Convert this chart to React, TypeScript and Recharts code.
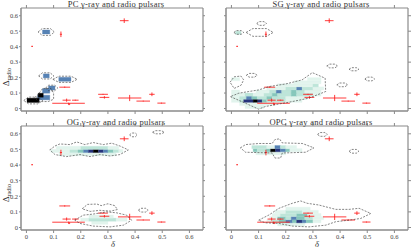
import { ScatterChart, Scatter, XAxis, YAxis, ErrorBar, ReferenceArea } from 'recharts';

type Cell = [number, number, number, number, number]; // x1, x2, y1, y2, level
type Pt = [number, number];

const xTicks = [0, 0.1, 0.2, 0.3, 0.4, 0.5, 0.6];
const yTicks = [0, 0.1, 0.2, 0.3, 0.4, 0.5, 0.6];
const xDomain: [number, number] = [-0.02, 0.65];
const yDomain: [number, number] = [-0.016, 0.65];

const levelColors = ['#ffffff', '#e2f4ed', '#bde5d8', '#86c7bb', '#5682b4', '#26337c', '#000000'];

// observed pulsars (same in every panel)
const observed = [
  { x: 0.021, y: 0.402, ex: 0.003, ey: 0.003 },
  { x: 0.127, y: 0.48, ex: 0.004, ey: 0.018 },
  { x: 0.36, y: 0.568, ex: 0.016, ey: 0.015 },
  { x: 0.141, y: 0.138, ex: 0.02, ey: 0.004 },
  { x: 0.148, y: 0.054, ex: 0.015, ey: 0.01 },
  { x: 0.18, y: 0.054, ex: 0.012, ey: 0.003 },
  { x: 0.155, y: 0.034, ex: 0.06, ey: 0.003 },
  { x: 0.157, y: 0.028, ex: 0.004, ey: 0.006 },
  { x: 0.282, y: 0.092, ex: 0.018, ey: 0.003 },
  { x: 0.287, y: 0.072, ex: 0.018, ey: 0.008 },
  { x: 0.38, y: 0.068, ex: 0.043, ey: 0.02 },
  { x: 0.43, y: 0.048, ex: 0.025, ey: 0.003 },
  { x: 0.462, y: 0.092, ex: 0.01, ey: 0.012 },
  { x: 0.497, y: 0.035, ex: 0.015, ey: 0.003 },
];

// PC
const pcCells: Cell[] = [
  [0.059, 0.086, 0.482, 0.508, 4],
  [0.062, 0.084, 0.198, 0.224, 4],
  [0.119, 0.164, 0.176, 0.202, 4],
  [0.081, 0.105, 0.12, 0.146, 4],
  [0.059, 0.086, 0.099, 0.129, 4],
  [0.041, 0.086, 0.056, 0.086, 4],
  [0.043, 0.062, 0.073, 0.099, 6],
  [0.002, 0.047, 0.039, 0.067, 6],
];
const pcContours: Pt[][] = [
  [[0.043, 0.495], [0.058, 0.517], [0.088, 0.517], [0.103, 0.495], [0.088, 0.473], [0.058, 0.473], [0.043, 0.495]],
  [[0.045, 0.211], [0.059, 0.231], [0.087, 0.231], [0.101, 0.211], [0.087, 0.191], [0.059, 0.191], [0.045, 0.211]],
  [[0.097, 0.189], [0.12, 0.209], [0.164, 0.209], [0.187, 0.189], [0.164, 0.169], [0.12, 0.169], [0.097, 0.189]],
  [[0.071, 0.133], [0.082, 0.151], [0.104, 0.151], [0.115, 0.133], [0.104, 0.115], [0.082, 0.115], [0.071, 0.133]],
  [[0.03, 0.07], [0.045, 0.095], [0.06, 0.13], [0.09, 0.13], [0.1, 0.1], [0.1, 0.06], [0.08, 0.045], [0.045, 0.045], [0.03, 0.07]],
  [[-0.01, 0.052], [0.008, 0.074], [0.042, 0.074], [0.06, 0.052], [0.042, 0.03], [0.008, 0.03], [-0.01, 0.052]],
];

// SG
const sgCells: Cell[] = [
  [0.05, 0.12, 0.0, 0.02, 1],
  [0.03, 0.16, 0.02, 0.04, 1],
  [0.0, 0.03, 0.04, 0.06, 1], [0.03, 0.045, 0.04, 0.06, 2], [0.045, 0.08, 0.04, 0.06, 5], [0.08, 0.097, 0.04, 0.06, 6],
  [0.097, 0.113, 0.04, 0.06, 5], [0.113, 0.13, 0.04, 0.06, 3], [0.13, 0.2, 0.04, 0.06, 2], [0.2, 0.26, 0.04, 0.06, 1],
  [0.0, 0.03, 0.06, 0.08, 1], [0.03, 0.055, 0.06, 0.08, 2], [0.055, 0.075, 0.06, 0.08, 4], [0.075, 0.095, 0.06, 0.08, 3],
  [0.095, 0.13, 0.06, 0.08, 2], [0.13, 0.15, 0.06, 0.08, 3], [0.15, 0.2, 0.06, 0.08, 2], [0.2, 0.28, 0.06, 0.08, 1],
  [0.0, 0.05, 0.08, 0.1, 1], [0.05, 0.08, 0.08, 0.1, 2], [0.08, 0.12, 0.08, 0.1, 1], [0.12, 0.15, 0.08, 0.1, 2],
  [0.15, 0.17, 0.08, 0.1, 3], [0.17, 0.22, 0.08, 0.1, 2], [0.22, 0.24, 0.08, 0.1, 3], [0.24, 0.3, 0.08, 0.1, 2], [0.3, 0.33, 0.08, 0.1, 1],
  [0.0, 0.03, 0.1, 0.12, 1], [0.09, 0.14, 0.1, 0.12, 1], [0.14, 0.165, 0.1, 0.12, 2], [0.165, 0.185, 0.1, 0.12, 4],
  [0.185, 0.22, 0.1, 0.12, 2], [0.22, 0.24, 0.1, 0.12, 3], [0.24, 0.27, 0.1, 0.12, 2], [0.27, 0.33, 0.1, 0.12, 1],
  [0.13, 0.2, 0.12, 0.14, 1], [0.2, 0.24, 0.12, 0.14, 2], [0.24, 0.26, 0.12, 0.14, 4], [0.26, 0.3, 0.12, 0.14, 2], [0.3, 0.34, 0.12, 0.14, 1],
  [0.17, 0.3, 0.14, 0.16, 1], [0.3, 0.32, 0.14, 0.16, 2],
  [0.23, 0.33, 0.16, 0.18, 1],
  [0.0, 0.03, 0.18, 0.2, 1], [0.28, 0.33, 0.18, 0.2, 1],
  [0.015, 0.035, 0.48, 0.5, 2],
];
const sgContours: Pt[][] = [
  [[-0.004, 0.077], [0.052, 0.034], [0.1, -0.004], [0.125, 0.013], [0.224, 0.045], [0.285, 0.067], [0.347, 0.11], [0.345, 0.196],
    [0.298, 0.232], [0.26, 0.185], [0.2, 0.159], [0.138, 0.142], [0.1, 0.12], [0.064, 0.11], [0.027, 0.099], [-0.004, 0.077]],
  [[-0.005, 0.17], [0.01, 0.205], [0.035, 0.21], [0.045, 0.185], [0.035, 0.15], [0.01, 0.13], [-0.005, 0.17]],
  [[0.055, 0.215], [0.065, 0.227], [0.085, 0.227], [0.095, 0.215], [0.085, 0.203], [0.065, 0.203], [0.055, 0.215]],
  [[0.093, 0.55], [0.102, 0.562], [0.12, 0.562], [0.129, 0.55], [0.12, 0.538], [0.102, 0.538], [0.093, 0.55]],
  [[0.009, 0.492], [0.018, 0.504], [0.036, 0.504], [0.045, 0.492], [0.036, 0.48], [0.018, 0.48], [0.009, 0.492]],
  [[0.054, 0.492], [0.079, 0.517], [0.129, 0.517], [0.154, 0.492], [0.129, 0.467], [0.079, 0.467], [0.054, 0.492]],
  [[0.351, 0.275], [0.361, 0.287], [0.381, 0.287], [0.391, 0.275], [0.381, 0.263], [0.361, 0.263], [0.351, 0.275]],
  [[0.433, 0.254], [0.442, 0.264], [0.46, 0.264], [0.469, 0.254], [0.46, 0.244], [0.442, 0.244], [0.433, 0.254]],
  [[0.491, 0.191], [0.5, 0.203], [0.518, 0.203], [0.527, 0.191], [0.518, 0.179], [0.5, 0.179], [0.491, 0.191]],
  [[0.388, 0.153], [0.398, 0.165], [0.418, 0.165], [0.428, 0.153], [0.418, 0.141], [0.398, 0.141], [0.388, 0.153]],
];

// OG
const ogCells: Cell[] = [
  [0.12, 0.33, 0.46, 0.48, 1],
  [0.09, 0.16, 0.48, 0.5, 1], [0.16, 0.19, 0.48, 0.5, 2], [0.19, 0.21, 0.48, 0.5, 3], [0.21, 0.228, 0.48, 0.5, 4],
  [0.228, 0.246, 0.48, 0.5, 5], [0.246, 0.265, 0.48, 0.5, 6], [0.265, 0.283, 0.48, 0.5, 5], [0.283, 0.3, 0.48, 0.5, 4],
  [0.3, 0.32, 0.48, 0.5, 3], [0.32, 0.34, 0.48, 0.5, 2], [0.34, 0.355, 0.48, 0.5, 1],
  [0.11, 0.2, 0.5, 0.52, 1], [0.2, 0.3, 0.5, 0.52, 2], [0.3, 0.34, 0.5, 0.52, 1],
  [0.24, 0.3, 0.02, 0.04, 1],
  [0.2, 0.23, 0.04, 0.06, 1], [0.23, 0.33, 0.04, 0.06, 2], [0.33, 0.37, 0.04, 0.06, 1],
  [0.23, 0.32, 0.06, 0.08, 1],
];
const ogContours: Pt[][] = [
  [[0.086, 0.497], [0.105, 0.522], [0.123, 0.535], [0.16, 0.531], [0.185, 0.548], [0.215, 0.531], [0.246, 0.544], [0.283, 0.531],
    [0.314, 0.54], [0.344, 0.522], [0.375, 0.497], [0.344, 0.467], [0.308, 0.458], [0.271, 0.467], [0.234, 0.454], [0.197, 0.467],
    [0.148, 0.454], [0.105, 0.467], [0.086, 0.497]],
  [[0.38, 0.593], [0.387, 0.605], [0.401, 0.605], [0.408, 0.593], [0.401, 0.581], [0.387, 0.581], [0.38, 0.593]],
  [[0.464, 0.61], [0.475, 0.62], [0.497, 0.62], [0.508, 0.61], [0.497, 0.6], [0.475, 0.6], [0.464, 0.61]],
  [[0.205, 0.12], [0.225, 0.148], [0.26, 0.15], [0.275, 0.14], [0.3, 0.152], [0.325, 0.14], [0.335, 0.115], [0.31, 0.105],
    [0.27, 0.11], [0.235, 0.103], [0.205, 0.12]],
  [[0.178, 0.047], [0.209, 0.079], [0.246, 0.086], [0.295, 0.1], [0.332, 0.094], [0.369, 0.079], [0.387, 0.047], [0.357, 0.015],
    [0.308, 0.004], [0.246, 0.009], [0.197, 0.026], [0.178, 0.047]],
  [[0.412, 0.111], [0.421, 0.123], [0.439, 0.123], [0.448, 0.111], [0.439, 0.099], [0.421, 0.099], [0.412, 0.111]],
];

// OPC
const opcCells: Cell[] = [
  [0.09, 0.2, 0.465, 0.485, 1],
  [0.08, 0.095, 0.485, 0.505, 3], [0.095, 0.128, 0.485, 0.505, 2], [0.128, 0.144, 0.485, 0.505, 3], [0.144, 0.162, 0.485, 0.505, 6],
  [0.162, 0.18, 0.485, 0.505, 5], [0.18, 0.2, 0.485, 0.505, 4], [0.2, 0.215, 0.485, 0.505, 3], [0.215, 0.26, 0.485, 0.505, 1],
  [0.075, 0.13, 0.505, 0.525, 2], [0.13, 0.16, 0.505, 0.525, 1], [0.16, 0.18, 0.505, 0.525, 4], [0.18, 0.2, 0.505, 0.525, 2], [0.2, 0.24, 0.505, 0.525, 1],
  [0.17, 0.27, 0.01, 0.03, 1],
  [0.13, 0.15, 0.03, 0.05, 1], [0.15, 0.175, 0.03, 0.05, 2], [0.175, 0.2, 0.03, 0.05, 3], [0.2, 0.225, 0.03, 0.05, 4],
  [0.225, 0.24, 0.03, 0.05, 3], [0.24, 0.26, 0.03, 0.05, 5], [0.26, 0.275, 0.03, 0.05, 4], [0.275, 0.3, 0.03, 0.05, 3], [0.3, 0.33, 0.03, 0.05, 1],
  [0.14, 0.17, 0.05, 0.07, 1], [0.17, 0.2, 0.05, 0.07, 3], [0.2, 0.22, 0.05, 0.07, 2], [0.22, 0.24, 0.05, 0.07, 4],
  [0.24, 0.27, 0.05, 0.07, 3], [0.27, 0.3, 0.05, 0.07, 2], [0.3, 0.34, 0.05, 0.07, 1],
  [0.15, 0.18, 0.07, 0.09, 1], [0.18, 0.24, 0.07, 0.09, 2], [0.24, 0.28, 0.07, 0.09, 3], [0.28, 0.33, 0.07, 0.09, 1],
  [0.16, 0.2, 0.09, 0.11, 1], [0.2, 0.26, 0.09, 0.11, 2], [0.26, 0.32, 0.09, 0.11, 1],
  [0.2, 0.29, 0.11, 0.13, 1],
];
const opcContours: Pt[][] = [
  [[0.033, 0.51], [0.052, 0.531], [0.101, 0.538], [0.15, 0.538], [0.16, 0.563], [0.177, 0.568], [0.187, 0.542], [0.261, 0.538],
    [0.304, 0.51], [0.273, 0.482], [0.187, 0.477], [0.181, 0.445], [0.16, 0.445], [0.15, 0.477], [0.052, 0.482], [0.033, 0.51]],
  [[0.317, 0.596], [0.326, 0.608], [0.344, 0.608], [0.353, 0.596], [0.344, 0.584], [0.326, 0.584], [0.317, 0.596]],
  [[0.433, 0.488], [0.442, 0.5], [0.46, 0.5], [0.469, 0.488], [0.46, 0.476], [0.442, 0.476], [0.433, 0.488]],
  [[0.1, 0.047], [0.138, 0.08], [0.175, 0.123], [0.224, 0.155], [0.255, 0.17], [0.279, 0.155], [0.322, 0.144], [0.384, 0.116],
    [0.433, 0.116], [0.47, 0.123], [0.513, 0.09], [0.476, 0.058], [0.433, 0.047], [0.384, 0.037], [0.347, 0.015], [0.285, 0.004],
    [0.224, 0.009], [0.175, 0.026], [0.125, 0.03], [0.1, 0.047]],
];

const axisColor = '#8a8a8a';
const tickFont = { fontSize: 6.5, fill: '#444', fontFamily: '"Liberation Serif", serif' };
const blank = () => '';
const noDot = () => <g />;

interface PanelProps {
  left: number;
  top: number;
  width: number;
  height: number;
  topH: number;
  bottomH: number;
  rightW: number;
  cells: Cell[];
  contours: Pt[][];
  xLabels: boolean;
  yLabels: boolean;
}

function Panel({ left, top, width, height, topH, bottomH, rightW, cells, contours, xLabels, yLabels }: PanelProps) {
  return (
    <div style={{ position: 'absolute', left, top }}>
      <ScatterChart width={width} height={height} margin={{ top: 0, right: 0, bottom: 0, left: 0 }}>
        <XAxis type="number" dataKey="x" domain={xDomain} ticks={xTicks} allowDataOverflow height={bottomH}
          tick={tickFont} tickFormatter={xLabels ? undefined : blank} tickSize={3} tickMargin={1}
          axisLine={{ stroke: axisColor, strokeWidth: 1.5 }} tickLine={{ stroke: axisColor }} />
        <XAxis xAxisId="top" orientation="top" type="number" dataKey="x" domain={xDomain} ticks={xTicks} allowDataOverflow
          height={topH} tickFormatter={blank} tickSize={3}
          axisLine={{ stroke: axisColor, strokeWidth: 1.2 }} tickLine={{ stroke: axisColor }} />
        <YAxis type="number" dataKey="y" domain={yDomain} ticks={yTicks} allowDataOverflow width={21}
          tick={tickFont} tickFormatter={yLabels ? undefined : blank} tickSize={2} tickMargin={1}
          axisLine={{ stroke: axisColor, strokeWidth: 1.5 }} tickLine={{ stroke: axisColor }} />
        <YAxis yAxisId="right" orientation="right" type="number" dataKey="y" domain={yDomain} ticks={yTicks} allowDataOverflow
          width={rightW} tickFormatter={blank} tickSize={3}
          axisLine={{ stroke: axisColor, strokeWidth: 1.2 }} tickLine={{ stroke: axisColor }} />
        {cells.map((c, i) => (
          <ReferenceArea key={'c' + i} x1={c[0]} x2={c[1]} y1={c[2]} y2={c[3]}
            fill={levelColors[c[4]]} fillOpacity={1} stroke={levelColors[c[4]]} strokeWidth={0.3} ifOverflow="hidden" />
        ))}
        {contours.map((pts, i) => (
          <Scatter key={'k' + i} data={pts.map(([x, y]) => ({ x, y }))} shape={noDot} isAnimationActive={false}
            line={{ stroke: '#333', strokeWidth: 0.6, strokeDasharray: '2 1.3' }} lineType="joint" />
        ))}
        <Scatter data={observed} shape={noDot} isAnimationActive={false}>
          <ErrorBar dataKey="ex" direction="x" width={0} stroke="#ff1a1a" strokeWidth={1} strokeOpacity={0.85} />
          <ErrorBar dataKey="ey" direction="y" width={0} stroke="#ff1a1a" strokeWidth={1} strokeOpacity={0.85} />
        </Scatter>
      </ScatterChart>
    </div>
  );
}

const titleStyle = { fontSize: 8.5, fill: '#333', fontFamily: '"Liberation Serif", serif', letterSpacing: 0.25 };

export default function App() {
  return (
    <div style={{ position: 'absolute', left: 0, top: 0, width: 411, height: 249, background: '#fff' }}>
      <Panel left={0} top={0} width={205} height={120} topH={8} bottomH={9} rightW={2} cells={pcCells} contours={pcContours} xLabels={false} yLabels />
      <Panel left={205} top={0} width={206} height={120} topH={8} bottomH={9} rightW={3} cells={sgCells} contours={sgContours} xLabels={false} yLabels={false} />
      <Panel left={0} top={120} width={205} height={129} topH={6} bottomH={19} rightW={2} cells={ogCells} contours={ogContours} xLabels yLabels />
      <Panel left={205} top={120} width={206} height={129} topH={6} bottomH={19} rightW={3} cells={opcCells} contours={opcContours} xLabels yLabels={false} />
      <svg width={411} height={249} style={{ position: 'absolute', left: 0, top: 0, pointerEvents: 'none' }}>
        <rect x={62} y={0} width={110} height={7} fill="#fff" />
        <rect x={267} y={0} width={110} height={7} fill="#fff" />
        <text x={116} y={6.5} textAnchor="middle" style={titleStyle}>PC γ-ray and radio pulsars</text>
        <text x={321} y={6.5} textAnchor="middle" style={titleStyle}>SG γ-ray and radio pulsars</text>
        <text x={116} y={124.5} textAnchor="middle" style={titleStyle}>OG γ-ray and radio pulsars</text>
        <text x={321} y={124.5} textAnchor="middle" style={titleStyle}>OPC γ-ray and radio pulsars</text>
        <text x={113} y={247} textAnchor="middle" style={{ ...titleStyle, fontStyle: 'italic', fontSize: 8.5 }}>δ</text>
        <text x={317} y={247} textAnchor="middle" style={{ ...titleStyle, fontStyle: 'italic', fontSize: 8.5 }}>δ</text>
        <text transform="translate(9,77) rotate(-90)" textAnchor="middle" style={{ ...titleStyle, letterSpacing: 0 }}>
          Δ<tspan fontSize={6} dy={1.5}>radio</tspan>
        </text>
        <text transform="translate(9,193) rotate(-90)" textAnchor="middle" style={{ ...titleStyle, letterSpacing: 0 }}>
          Δ<tspan fontSize={6} dy={1.5}>radio</tspan>
        </text>
      </svg>
    </div>
  );
}
